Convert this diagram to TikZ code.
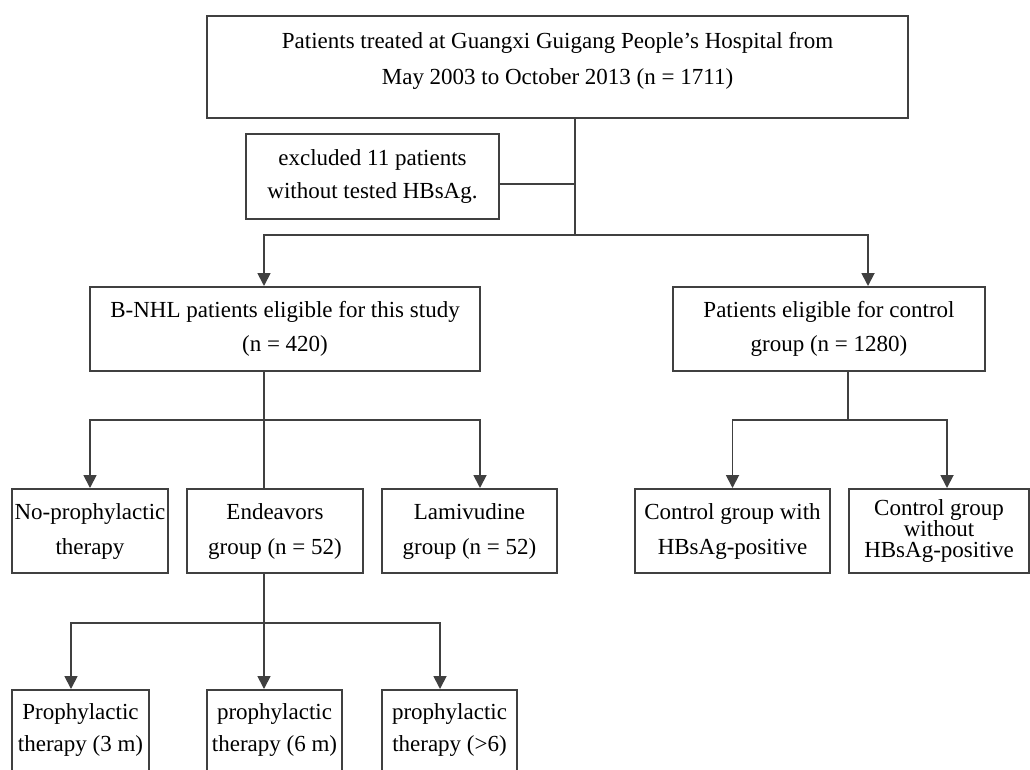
\documentclass[tikz,border=0pt]{standalone}
\usepackage{fontspec}
\setmainfont{Liberation Serif}
\usetikzlibrary{arrows.meta}

\begin{document}
\begin{tikzpicture}[x=1pt,y=-1pt]
	\clip (0,0) rectangle (1030,769);
	\fill[white] (0,0) rectangle (1030,769);

	\begin{scope}[every node/.style={draw=black!75,line width=2pt,anchor=north west,inner sep=0pt,align=center,font=\fontsize{23}{35}\selectfont}]
		\node[minimum width=701pt,minimum height=102pt,text depth=17pt,font=\fontsize{23}{36}\selectfont] (top) at (206,15) {Patients treated at Guangxi Guigang People’s Hospital from\\May 2003 to October 2013 (n = 1711)};
		\node[minimum width=253pt,minimum height=85pt,font=\fontsize{23}{33}\selectfont] (excl) at (245,133) {excluded 11 patients\\without tested HBsAg.};
		\node[minimum width=390pt,minimum height=84pt,font=\fontsize{23}{34}\selectfont] (bnhl) at (89,286) {B-NHL patients eligible for this study\\(n = 420)};
		\node[minimum width=312pt,minimum height=84pt,font=\fontsize{23}{34}\selectfont] (ctrl) at (672,286) {Patients eligible for control\\group (n = 1280)};
		\node[minimum width=156pt,minimum height=84pt] (nopro) at (11,488) {No-prophylactic\\therapy};
		\node[minimum width=176pt,minimum height=84pt] (endea) at (186,488) {Endeavors\\group (n = 52)};
		\node[minimum width=175pt,minimum height=84pt] (lami) at (381,488) {Lamivudine\\group (n = 52)};
		\node[minimum width=195pt,minimum height=84pt] (cwith) at (634,488) {Control group with\\HBsAg-positive};
		\node[minimum width=180pt,minimum height=84pt,font=\fontsize{23}{21}\selectfont] (cwout) at (848,488) {Control group\\without\\HBsAg-positive};
		\node[minimum width=137pt,minimum height=100pt,text depth=25pt,font=\fontsize{23}{32}\selectfont] (p3) at (11,689) {Prophylactic\\therapy (3 m)};
		\node[minimum width=135pt,minimum height=100pt,text depth=25pt,font=\fontsize{23}{32}\selectfont] (p6) at (206,689) {prophylactic\\therapy (6 m)};
		\node[minimum width=135pt,minimum height=100pt,text depth=25pt,font=\fontsize{23}{32}\selectfont] (pg6) at (381,689) {prophylactic\\therapy (>6)};
	\end{scope}

	\coordinate (split) at (575,235);
	\coordinate (studyL) at (264,235);
	\coordinate (ctrlR) at (868,235);
	\coordinate (studyfork) at (264,420);
	\coordinate (ctrlfork) at (848,420);
	\coordinate (endfork) at (264,623);

	\begin{scope}[draw=black!75,line width=1.8pt,>={Triangle[length=13pt,width=13pt]}]
		\draw (top.south -| split) -- (split);
		\draw ([yshift=-7.5pt]excl.east) -- ([yshift=-7.5pt]excl.east -| split);
		\draw[->] (split) -- (studyL) -- (studyL |- bnhl.north);
		\draw[->] (split) -- (ctrlR) -- (ctrlR |- ctrl.north);

		\draw (studyfork |- bnhl.south) -- (studyfork);
		\draw[->] (studyfork) -| (nopro.north);
		\draw[->] (studyfork) -| ([xshift=10.5pt]lami.north);
		\draw (studyfork) -- (studyfork |- endea.north);

		\draw (ctrlfork |- ctrl.south) -- (ctrlfork);
		\draw[->] (ctrlfork) -| (cwith.north);
		\draw[->] (ctrlfork) -| ([xshift=8pt]cwout.north);

		\draw (endfork |- endea.south) -- (endfork);
		\draw[->] (endfork) -| ([xshift=-9.5pt]p3.north);
		\draw[->] (endfork) -- (endfork |- p6.north);
		\draw[->] (endfork) -| ([xshift=-9.5pt]pg6.north);
	\end{scope}
\end{tikzpicture}
\end{document}
